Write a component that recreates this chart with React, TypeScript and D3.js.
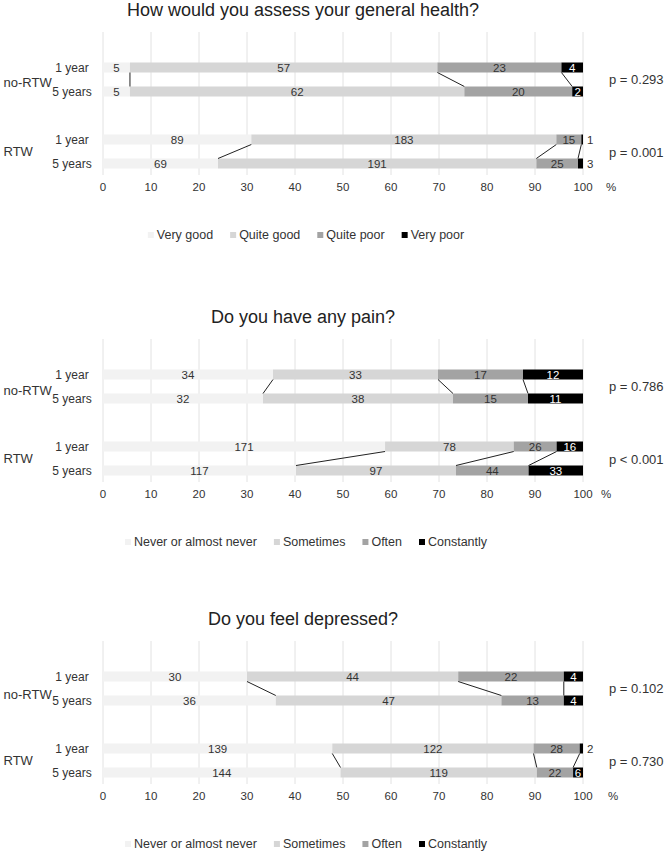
import React from "react";
import * as d3 from "d3";

const W = 667;
const H = 852;
const FONT = "'Liberation Sans', Arial, Helvetica, sans-serif";

// ---------- data ----------
const titles = [
  "How would you assess your general health?",
  "Do you have any pain?",
  "Do you feel depressed?",
];
const healthCategories = ["Very good", "Quite good", "Quite poor", "Very poor"];
const frequencyCategories = ["Never or almost never", "Sometimes", "Often", "Constantly"];
const groups = ["no-RTW", "RTW"];
const timepoints = ["1 year", "5 years"];

// rows: no-RTW 1 year, no-RTW 5 years, RTW 1 year, RTW 5 years
const healthValues = [
  [5, 57, 23, 4],
  [5, 62, 20, 2],
  [89, 183, 15, 1],
  [69, 191, 25, 3],
];
const painValues = [
  [34, 33, 17, 12],
  [32, 38, 15, 11],
  [171, 78, 26, 16],
  [117, 97, 44, 33],
];
const depressedValues = [
  [30, 44, 22, 4],
  [36, 47, 13, 4],
  [139, 122, 28, 2],
  [144, 119, 22, 6],
];
const pValues = [
  ["p = 0.293", "p = 0.001"],
  ["p = 0.786", "p < 0.001"],
  ["p = 0.102", "p = 0.730"],
];
const tickValues = [0, 10, 20, 30, 40, 50, 60, 70, 80, 90, 100];

// ---------- styles / layout ----------
const colors = ["#f2f2f2", "#d6d6d6", "#a3a3a3", "#000000"];
const panelTops = [32, 339, 641];
const groupLabelOffsets = [50, 51.5, 53.5];
const percentX = [606, 601, 608];
const rowOffsets = [35.5, 59.5, 107.5, 131.5];
const BAR_H = 10;
const TEXT = "#333333";

const x = d3.scaleLinear().domain([0, 100]).range([103, 583]);

let ctx: CanvasRenderingContext2D | null = null;
function textWidth(t: string, size: number) {
  if (!ctx) {
    const c = document.createElement("canvas");
    ctx = c.getContext("2d");
  }
  if (!ctx) return t.length * size * 0.5;
  ctx.font = `${size}px 'Liberation Sans', Arial, sans-serif`;
  return ctx.measureText(t).width;
}

function Legend({ labels, y }: { labels: string[]; y: number }) {
  const size = 12.5;
  const marker = 6;
  const textGap = 3;
  const itemGap = 17;
  const widths = labels.map((l) => marker + textGap + textWidth(l, size));
  const total = d3.sum(widths) + itemGap * (labels.length - 1);
  const starts = [] as number[];
  let cx = 306 - total / 2;
  widths.forEach((w) => {
    starts.push(cx);
    cx += w + itemGap;
  });
  return (
    <g>
      {labels.map((l, i) => (
        <g key={l}>
          <rect x={starts[i]} y={y - marker / 2} width={marker} height={marker} fill={colors[i]} />
          <text
            x={starts[i] + marker + textGap}
            y={y}
            dy="0.35em"
            fontSize={size}
            fill={TEXT}
            fontFamily={FONT}
          >
            {l}
          </text>
        </g>
      ))}
    </g>
  );
}

function Panel({
  index,
  values,
  legendLabels,
}: {
  index: number;
  values: number[][];
  legendLabels: string[];
}) {
  const top = panelTops[index];
  const rows = values.map((vals, r) => {
    const total = d3.sum(vals);
    const pct = vals.map((v) => (v / total) * 100);
    const cum = [0, ...Array.from(d3.cumsum(pct))];
    return { vals, pct, cum, y: top + rowOffsets[r] };
  });

  return (
    <g>
      <text
        x={303}
        y={top - 16}
        textAnchor="middle"
        fontSize={18}
        fill="#222"
        fontFamily={FONT}
      >
        {titles[index]}
      </text>
      {tickValues.map((t) => (
        <line
          key={t}
          x1={x(t)}
          x2={x(t)}
          y1={top}
          y2={top + 143}
          stroke="#e2e2e2"
          strokeWidth={1}
        />
      ))}
      {tickValues.map((t) => (
        <text
          key={"t" + t}
          x={x(t)}
          y={top + 155}
          dy="0.35em"
          textAnchor="middle"
          fontSize={11.5}
          fill={TEXT}
          fontFamily={FONT}
        >
          {t}
        </text>
      ))}
      <text x={percentX[index]} y={top + 155} dy="0.35em" fontSize={11.5} fill={TEXT} fontFamily={FONT}>
        %
      </text>
      {rows.map((row, r) => (
        <g key={r}>
          {row.vals.map((v, i) => (
            <rect
              key={i}
              x={x(row.cum[i])}
              y={row.y - BAR_H / 2}
              width={x(row.cum[i + 1]) - x(row.cum[i])}
              height={BAR_H}
              fill={colors[i]}
            />
          ))}
          {row.vals.map((v, i) => {
            const outside = row.pct[i] < 1.5;
            const cx = outside ? x(100) + 4 : (x(row.cum[i]) + x(row.cum[i + 1])) / 2;
            return (
              <text
                key={"l" + i}
                x={cx}
                y={row.y}
                dy="0.35em"
                textAnchor={outside ? "start" : "middle"}
                fontSize={11.5}
                fill={i === 3 && !outside ? "#ffffff" : TEXT}
                fontFamily={FONT}
              >
                {v}
              </text>
            );
          })}
          <text
            x={72}
            y={row.y}
            dy="0.35em"
            textAnchor="middle"
            fontSize={12}
            fill={TEXT}
            fontFamily={FONT}
          >
            {timepoints[r % 2]}
          </text>
        </g>
      ))}
      {[0, 1].map((g) => {
        const a = rows[g * 2];
        const b = rows[g * 2 + 1];
        return (
          <g key={"c" + g}>
            {[1, 2, 3].map((k) => (
              <line
                key={k}
                x1={x(a.cum[k])}
                y1={a.y + BAR_H / 2}
                x2={x(b.cum[k])}
                y2={b.y - BAR_H / 2}
                stroke="#222"
                strokeWidth={1}
              />
            ))}
          </g>
        );
      })}
      <text
        x={3.5}
        y={top + groupLabelOffsets[index]}
        dy="0.35em"
        fontSize={13}
        fill={TEXT}
        fontFamily={FONT}
      >
        {groups[0]}
      </text>
      <text x={3.5} y={top + 119} dy="0.35em" fontSize={13} fill={TEXT} fontFamily={FONT}>
        {groups[1]}
      </text>
      <text x={609} y={top + 47.5} dy="0.35em" fontSize={13} fill={TEXT} fontFamily={FONT}>
        {pValues[index][0]}
      </text>
      <text x={609} y={top + 120.5} dy="0.35em" fontSize={13} fill={TEXT} fontFamily={FONT}>
        {pValues[index][1]}
      </text>
      <Legend labels={legendLabels} y={top + 203} />
    </g>
  );
}

export default function App() {
  return (
    <div style={{ position: "absolute", left: 0, top: 0 }}>
      <svg width={W} height={H} style={{ display: "block", background: "#ffffff" }}>
        <Panel index={0} values={healthValues} legendLabels={healthCategories} />
        <Panel index={1} values={painValues} legendLabels={frequencyCategories} />
        <Panel index={2} values={depressedValues} legendLabels={frequencyCategories} />
      </svg>
    </div>
  );
}
